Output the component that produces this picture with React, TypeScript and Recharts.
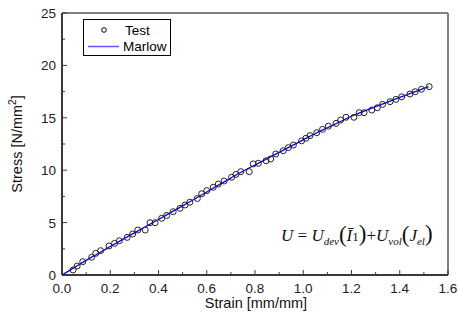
import React from "react";
import {
  ComposedChart,
  Line,
  Scatter,
  XAxis,
  YAxis,
  ReferenceLine,
  Customized,
} from "recharts";

// Test data (strain [mm/mm], stress [N/mm^2])
const testStrain = [
  0.046, 0.063, 0.086, 0.123, 0.14, 0.16, 0.195, 0.218, 0.238, 0.27, 0.293,
  0.314, 0.345, 0.365, 0.386, 0.413, 0.434, 0.461, 0.489, 0.51, 0.53, 0.561,
  0.579, 0.6, 0.627, 0.648, 0.672, 0.703, 0.721, 0.741, 0.776, 0.793, 0.814,
  0.846, 0.865, 0.886, 0.917, 0.938, 0.959, 0.993, 1.011, 1.028, 1.056, 1.08,
  1.104, 1.136, 1.155, 1.177, 1.21, 1.232, 1.252, 1.284, 1.307, 1.329, 1.36,
  1.384, 1.408, 1.442, 1.464, 1.49, 1.522,
];
const testStress = [
  0.48, 0.86, 1.27, 1.69, 2.07, 2.32, 2.77, 3.02, 3.27, 3.59, 3.91, 4.29, 4.29,
  4.99, 4.99, 5.41, 5.68, 6.04, 6.36, 6.68, 6.95, 7.3, 7.75, 8.05, 8.37, 8.68,
  8.97, 9.32, 9.6, 9.86, 9.86, 10.6, 10.66, 10.9, 11.07, 11.55, 11.86, 12.15,
  12.4, 12.8, 13.05, 13.3, 13.58, 13.9, 14.2, 14.47, 14.79, 15.05, 15.05,
  15.49, 15.49, 15.74, 15.96, 16.28, 16.54, 16.76, 17.0, 17.27, 17.49, 17.72,
  17.97,
];

// Marlow model curve
const marlowStrain = [
  0, 0.05, 0.1, 0.15, 0.2, 0.25, 0.3, 0.35, 0.4, 0.45, 0.5, 0.55, 0.6, 0.65,
  0.7, 0.75, 0.8, 0.85, 0.9, 0.95, 1.0, 1.05, 1.1, 1.15, 1.2, 1.25, 1.3, 1.35,
  1.4, 1.45, 1.5, 1.52,
];
const marlowStress = [
  0, 0.7, 1.4, 2.05, 2.72, 3.38, 4.02, 4.66, 5.3, 5.95, 6.6, 7.25, 7.92, 8.6,
  9.25, 9.9, 10.5, 11.1, 11.7, 12.3, 12.9, 13.5, 14.05, 14.6, 15.15, 15.62,
  16.07, 16.5, 16.95, 17.37, 17.8, 17.97,
];

const xTicks = [
  0, 0.1, 0.2, 0.3, 0.4, 0.5, 0.6, 0.7, 0.8, 0.9, 1.0, 1.1, 1.2, 1.3, 1.4, 1.5,
  1.6,
];
const xMajor = [0, 0.2, 0.4, 0.6, 0.8, 1.0, 1.2, 1.4, 1.6];
const yTicks = [0, 2.5, 5, 7.5, 10, 12.5, 15, 17.5, 20, 22.5, 25];
const yMajor = [0, 5, 10, 15, 20, 25];

const testData = testStrain.map((x, i) => ({ x, y: testStress[i] }));
const marlowData = marlowStrain.map((x, i) => ({ x, y: marlowStress[i] }));

const FONT = "'Liberation Sans', Arial, sans-serif";
const SERIF = "'Liberation Serif', 'Times New Roman', serif";
const AXIS_COLOR = "#3a3a3a";

const isMajor = (v: number, arr: number[]) =>
  arr.some((m) => Math.abs(m - v) < 1e-6);

const XTick = (props: any) => {
  const { x, y, payload } = props;
  const v = payload.value as number;
  const major = isMajor(v, xMajor);
  const axisY = y - 6;
  return (
    <g>
      <line
        x1={x}
        x2={x}
        y1={axisY}
        y2={axisY - (major ? 5 : 3)}
        stroke={AXIS_COLOR}
        strokeWidth={1}
      />
      {major && (
        <text
          x={x}
          y={y + 12}
          textAnchor="middle"
          fontFamily={FONT}
          fontSize={13.5}
          fill="#222"
        >
          {v.toFixed(1)}
        </text>
      )}
    </g>
  );
};

const YTick = (props: any) => {
  const { x, y, payload } = props;
  const v = payload.value as number;
  const major = isMajor(v, yMajor);
  const axisX = x + 6;
  return (
    <g>
      <line
        x1={axisX}
        x2={axisX + (major ? 5 : 3)}
        y1={y}
        y2={y}
        stroke={AXIS_COLOR}
        strokeWidth={1}
      />
      {major && (
        <text
          x={x}
          y={y + 5}
          textAnchor="end"
          fontFamily={FONT}
          fontSize={13.5}
          fill="#222"
        >
          {String(v)}
        </text>
      )}
    </g>
  );
};

const CircleShape = (props: any) => {
  const { cx, cy } = props;
  return (
    <circle cx={cx} cy={cy} r={3} fill="none" stroke="#222" strokeWidth={1} />
  );
};

const Overlay = () => (
  <g>
    {/* legend */}
    <rect x={83.5} y={19.5} width={87} height={36} fill="#fff" stroke="#000" strokeWidth={1} />
    <circle cx={104} cy={30} r={2.3} fill="none" stroke="#000" strokeWidth={1} />
    <text x={125} y={35} fontFamily={FONT} fontSize={13.5} fill="#000">
      Test
    </text>
    <line x1={88} x2={119} y1={46.5} y2={46.5} stroke="#5a5aff" strokeWidth={1.5} />
    <text x={123} y={51} fontFamily={FONT} fontSize={13.5} fill="#000">
      Marlow
    </text>
    {/* equation */}
    <text x={281} y={241} fontFamily={SERIF} fontSize={17} fill="#111">
      <tspan fontStyle="italic">U</tspan>
      <tspan> = </tspan>
      <tspan fontStyle="italic">U</tspan>
      <tspan fontStyle="italic" fontSize={11} dy={4}>dev</tspan>
      <tspan fontSize={23} dy={-3}>(</tspan>
      <tspan fontStyle="italic" dy={-1}>Ī</tspan>
      <tspan fontSize={13}>1</tspan>
      <tspan fontSize={23}>)</tspan>
      <tspan>+</tspan>
      <tspan fontStyle="italic">U</tspan>
      <tspan fontStyle="italic" fontSize={11} dy={4}>vol</tspan>
      <tspan fontSize={23} dy={-3}>(</tspan>
      <tspan fontStyle="italic" dy={-1}>J</tspan>
      <tspan fontStyle="italic" fontSize={11} dy={4}>el</tspan>
      <tspan fontSize={23} dy={-4}>)</tspan>
    </text>
    {/* axis titles */}
    <text
      x={256}
      y={308}
      textAnchor="middle"
      fontFamily={FONT}
      fontSize={14.5}
      fill="#111"
    >
      Strain [mm/mm]
    </text>
    <text
      transform="translate(22,144) rotate(-90)"
      textAnchor="middle"
      fontFamily={FONT}
      fontSize={14.5}
      fill="#111"
    >
      Stress [N/mm
      <tspan fontSize={10} dy={-6}>2</tspan>
      <tspan dy={6}>]</tspan>
    </text>
  </g>
);

export default function App() {
  return (
    <div style={{ position: "absolute", left: 0, top: 0, background: "#fff" }}>
      <ComposedChart
        width={458}
        height={322}
        margin={{ top: 13, right: 10, bottom: 17, left: 0 }}
      >
        <XAxis
          type="number"
          dataKey="x"
          domain={[0, 1.6]}
          ticks={xTicks}
          interval={0}
          height={30}
          tickSize={0}
          tickMargin={6}
          tick={<XTick />}
          axisLine={{ stroke: AXIS_COLOR, strokeWidth: 2 }}
          allowDataOverflow
        />
        <YAxis
          type="number"
          dataKey="y"
          domain={[0, 25]}
          ticks={yTicks}
          interval={0}
          width={62}
          tickSize={0}
          tickMargin={6}
          tick={<YTick />}
          axisLine={{ stroke: AXIS_COLOR, strokeWidth: 2 }}
          allowDataOverflow
        />
        <ReferenceLine y={25} stroke="#000" strokeWidth={1} />
        <ReferenceLine x={1.6} stroke="#808080" strokeWidth={2} />
        <Scatter
          data={testData}
          dataKey="y"
          shape={<CircleShape />}
          isAnimationActive={false}
        />
        <Line
          data={marlowData}
          dataKey="y"
          type="monotone"
          stroke="#0000ff"
          strokeWidth={1.3}
          dot={false}
          isAnimationActive={false}
        />
        <Customized component={Overlay} />
      </ComposedChart>
    </div>
  );
}
